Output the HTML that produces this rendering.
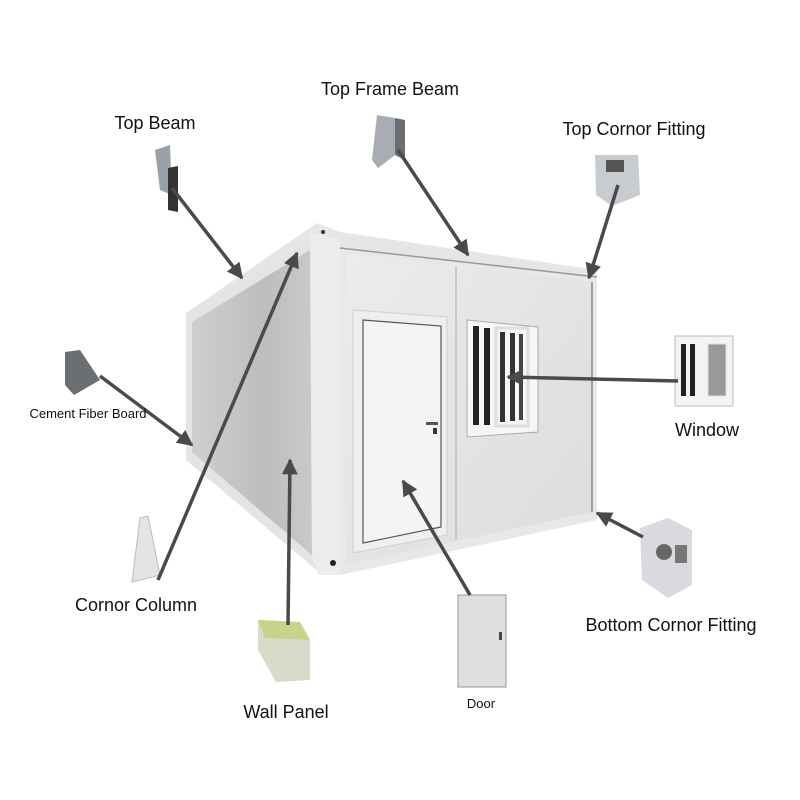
<!DOCTYPE html>
<html><head><meta charset="utf-8"><style>
html,body{margin:0;padding:0;background:#fff}
svg{display:block}
text{font-family:"Liberation Sans",sans-serif;fill:#111}
</style></head><body>
<svg width="800" height="800" viewBox="0 0 800 800" xmlns="http://www.w3.org/2000/svg">
<defs>
<linearGradient id="side" x1="0" y1="0" x2="1" y2="0">
<stop offset="0" stop-color="#cfcfcf"/><stop offset="0.6" stop-color="#bdbdbd"/><stop offset="1" stop-color="#c9c9c9"/></linearGradient>
<linearGradient id="front" x1="0" y1="0" x2="1" y2="1">
<stop offset="0" stop-color="#ececec"/><stop offset="1" stop-color="#dcdcdc"/></linearGradient>
<marker id="ah" markerWidth="8" markerHeight="8" refX="6" refY="4" orient="auto" markerUnits="userSpaceOnUse">
<path d="M0,0 L8,4 L0,8 Z" fill="#4a4a4a" transform="scale(1)"/></marker>
<marker id="ah2" viewBox="0 0 10 10" refX="9" refY="5" markerWidth="16" markerHeight="16" orient="auto" markerUnits="userSpaceOnUse">
<path d="M0,0 L10,5 L0,10 Z" fill="#4a4a4a"/></marker>
</defs>

<!-- container top -->
<polygon points="186,313 317,223 340,232 597,270 597,277 340,248 318,238 196,320" fill="#e6e6e6"/>
<!-- left side -->
<polygon points="186,313 318,238 320,573 186,460" fill="#e4e4e4"/>
<polygon points="192,322 310,250 312,555 192,452" fill="url(#side)"/>
<!-- corner post -->
<polygon points="310,232 340,240 340,575 318,575 312,555" fill="#ececec"/>
<!-- front face -->
<polygon points="340,248 597,277 597,520 340,575" fill="#e8e8e8"/>
<polygon points="346,254 592,282 592,512 346,565" fill="url(#front)"/>
<line x1="456" y1="266" x2="456" y2="540" stroke="#aaa" stroke-width="1"/>
<line x1="340" y1="248" x2="597" y2="277" stroke="#999" stroke-width="1.5"/>
<line x1="592" y1="282" x2="592" y2="512" stroke="#888" stroke-width="1.5"/>
<!-- door -->
<polygon points="353,310 447,317 447,535 353,553" fill="#efefef" stroke="#cfcfcf"/>
<polygon points="363,320 441,326 441,527 363,543" fill="#f4f4f4" stroke="#555" stroke-width="1.2"/>
<rect x="426" y="422" width="12" height="3" fill="#555"/>
<rect x="433" y="428" width="4" height="6" fill="#333"/>
<!-- window -->
<polygon points="467,320 538,327 538,432 467,437" fill="#f6f6f6" stroke="#aaa"/>
<rect x="473" y="326" width="6" height="99" fill="#222"/>
<rect x="484" y="328" width="6" height="97" fill="#222"/>
<rect x="500" y="332" width="5" height="90" fill="#333"/>
<rect x="510" y="333" width="5" height="88" fill="#333"/>
<rect x="519" y="334" width="4" height="86" fill="#444"/>
<rect x="496" y="328" width="32" height="98" fill="none" stroke="#ddd" stroke-width="3"/>
<circle cx="333" cy="563" r="3" fill="#222"/>
<circle cx="323" cy="232" r="2" fill="#333"/>

<!-- part icons -->
<polygon points="155,150 170,145 172,195 160,190" fill="#9aa0a8"/>
<polygon points="168,168 178,166 178,212 168,210" fill="#333"/>
<polygon points="377,115 395,118 395,155 378,168 372,160" fill="#a9acb2"/>
<polygon points="395,118 405,120 405,160 395,155" fill="#6a6d72"/>
<polygon points="595,155 638,155 640,195 612,206 596,195" fill="#c8cbd0"/>
<rect x="606" y="160" width="18" height="12" fill="#555"/>
<polygon points="65,352 80,350 100,380 74,395 65,385" fill="#6b6e73"/>
<polygon points="140,518 148,516 160,575 132,582" fill="#e2e4e6" stroke="#bbb"/>
<polygon points="258,620 300,622 310,640 310,680 276,682 258,650" fill="#d8dbc8"/>
<polygon points="258,620 300,622 310,640 265,638" fill="#c9d28a"/>
<rect x="675" y="336" width="58" height="70" fill="#f3f3f3" stroke="#bbb"/>
<rect x="681" y="344" width="5" height="52" fill="#222"/><rect x="690" y="344" width="5" height="52" fill="#222"/>
<rect x="708" y="344" width="18" height="52" fill="#999" stroke="#ddd"/>
<polygon points="640,528 668,518 692,530 692,585 668,598 642,580" fill="#d8dadf"/>
<circle cx="664" cy="552" r="8" fill="#666"/><rect x="675" y="545" width="12" height="18" fill="#777"/>
<rect x="458" y="595" width="48" height="92" fill="#dfdfdf" stroke="#999"/>
<rect x="499" y="632" width="3" height="8" fill="#444"/>

<!-- arrows -->
<g stroke="#4a4a4a" stroke-width="3.5" fill="none" marker-end="url(#ah2)">
<line x1="172" y1="188" x2="242" y2="278"/>
<line x1="398" y1="150" x2="468" y2="255"/>
<line x1="618" y1="185" x2="589" y2="278"/>
<line x1="678" y1="381" x2="508" y2="377"/>
<line x1="100" y1="376" x2="192" y2="445"/>
<line x1="158" y1="580" x2="297" y2="253"/>
<line x1="288" y1="625" x2="290" y2="460"/>
<line x1="470" y1="595" x2="403" y2="481"/>
<line x1="643" y1="537" x2="597" y2="513"/>
</g>

<!-- labels -->
<text x="155" y="129" font-size="18" text-anchor="middle">Top Beam</text>
<text x="390" y="95" font-size="18" text-anchor="middle">Top Frame Beam</text>
<text x="634" y="135" font-size="18" text-anchor="middle">Top Cornor Fitting</text>
<text x="707" y="436" font-size="18" text-anchor="middle">Window</text>
<text x="88" y="418" font-size="13" text-anchor="middle">Cement Fiber Board</text>
<text x="136" y="611" font-size="18" text-anchor="middle">Cornor Column</text>
<text x="286" y="718" font-size="18" text-anchor="middle">Wall Panel</text>
<text x="481" y="708" font-size="13" text-anchor="middle">Door</text>
<text x="671" y="631" font-size="18" text-anchor="middle">Bottom Cornor Fitting</text>
</svg>
</body></html>
